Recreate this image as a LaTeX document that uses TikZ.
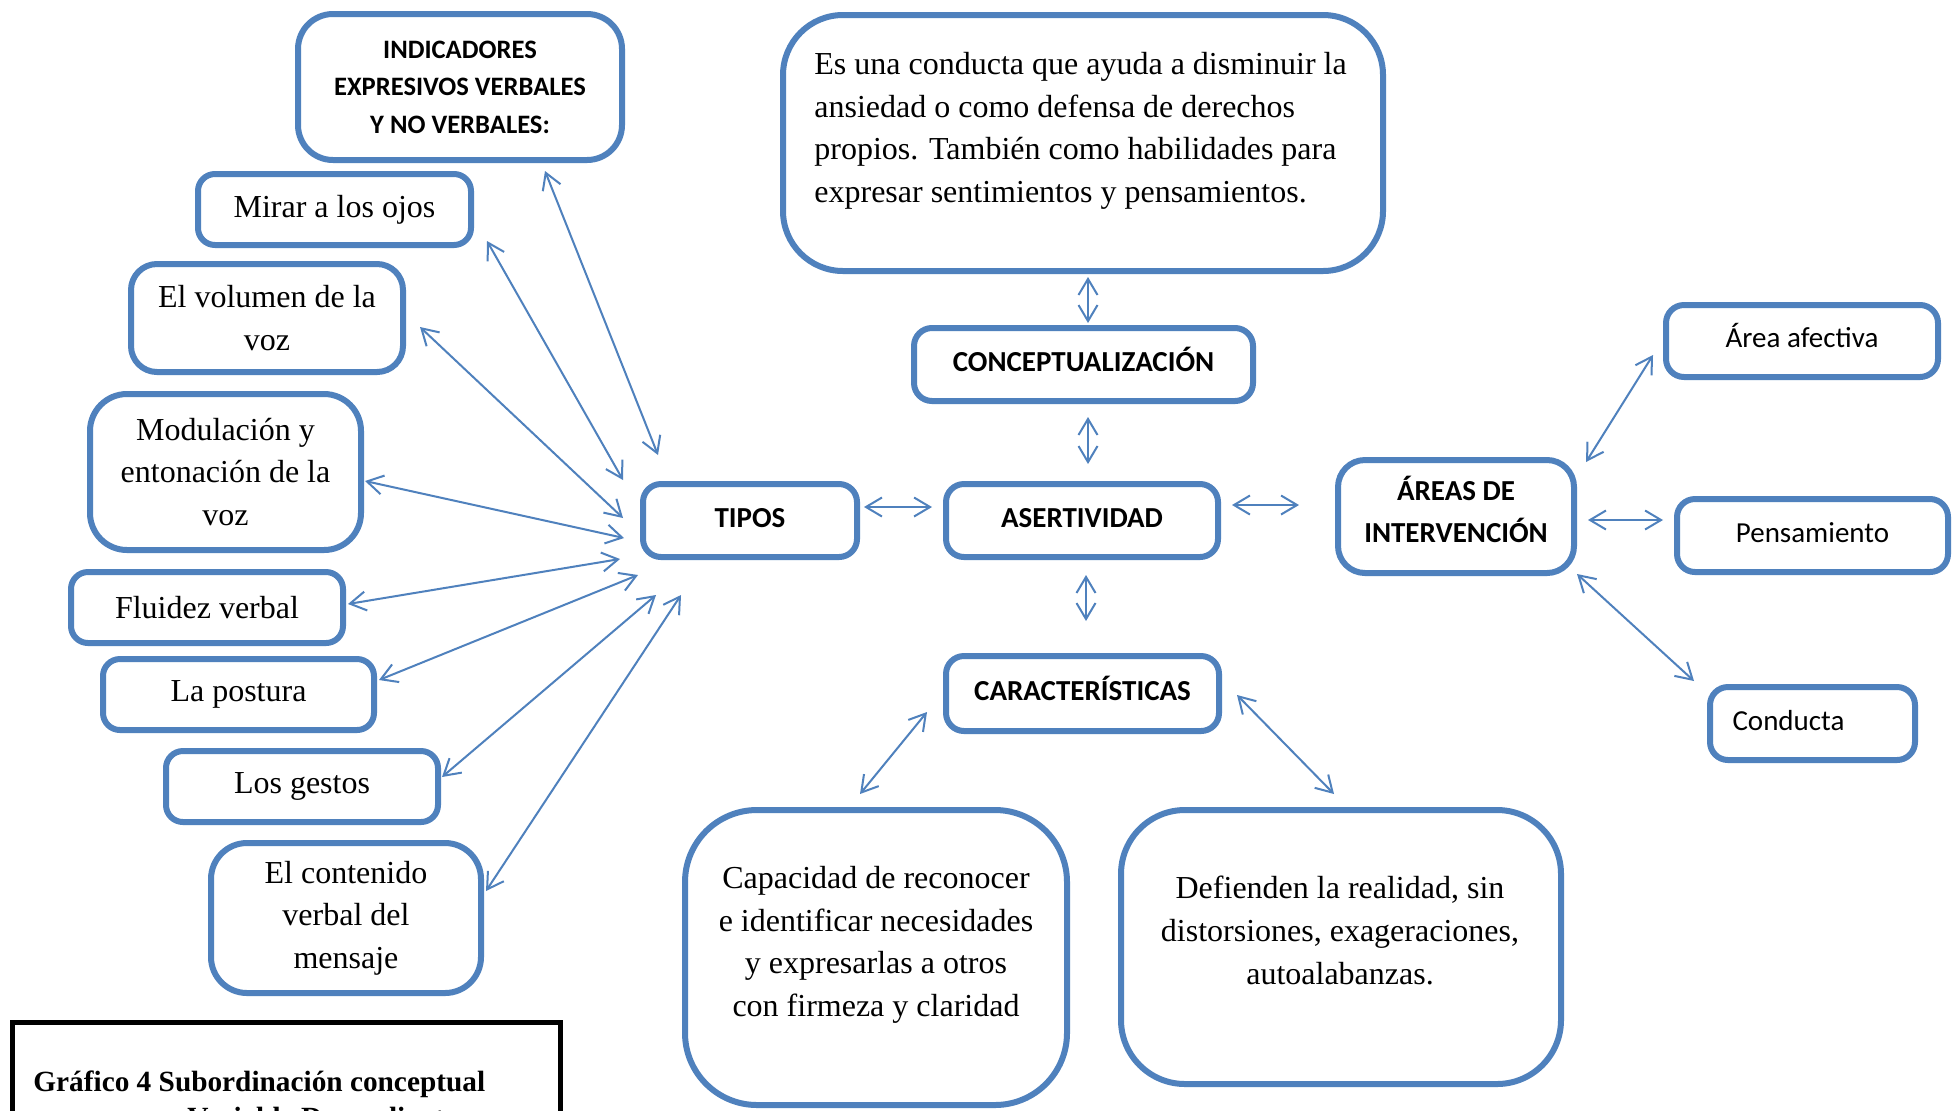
\documentclass[tikz,border=0pt]{standalone}
\usepackage{fontspec}
\setmainfont{Liberation Serif}
\newfontfamily\calfont{Carlito}
\usetikzlibrary{arrows.meta,calc}
\definecolor{boxblue}{RGB}{79,129,189}

\begin{document}
\begin{tikzpicture}[x=0.5pt,y=-0.5pt,
  box/.style={draw=boxblue,line width=3pt,rounded corners=#1,inner sep=0pt,align=center,fill=white},
  box/.default=9pt,
  rm/.style={font=\fontsize{16pt}{21.3pt}\selectfont},
  sb/.style={font=\calfont\bfseries\fontsize{14.5pt}{21pt}\selectfont},
  sr/.style={font=\calfont\fontsize{14.5pt}{21pt}\selectfont},
  oneline/.style={text height=10pt,text depth=3.5pt},
  txt/.style={inner sep=0pt},
  arr/.style={draw=boxblue,line width=1pt,>={Straight Barb[length=8pt,width=9.5pt]},<->},
]
\useasboundingbox (0,0) rectangle (1952,1110);
\clip (0,0) rectangle (1952,1110);
\fill[white] (0,0) rectangle (1952,1110);

% expressive indicators (left column)
\node[box=17.5pt, minimum width=162pt, minimum height=73pt,
      font=\calfont\bfseries\fontsize{13.3pt}{18.7pt}\selectfont] (ind) at (460,87)
      {INDICADORES\\EXPRESIVOS VERBALES\\Y NO VERBALES:};
\node[box=8.5pt, minimum width=136.5pt, minimum height=35.5pt, rm] (mir) at (334.5,209.5) {Mirar a los ojos};
\node[box=13pt, minimum width=136pt, minimum height=54pt, rm] (vol) at (267,318) {El volumen de la\\voz};
\node[box=18.5pt, minimum width=135.5pt, minimum height=78pt, rm] (mod) at (225.5,472) {Modulación y\\entonación de la\\voz};
\node[box=8.5pt, minimum width=136pt, minimum height=35.5pt, rm] (flu) at (207,607.5) {Fluidez verbal};
\node[box=8.5pt, minimum width=135.5pt, minimum height=35.5pt, rm] (pos) at (238.5,694.5) {La postura};
\node[box=8.5pt, minimum width=136pt, minimum height=35.5pt, rm] (ges) at (302,786.5) {Los gestos};
\node[box=18pt, minimum width=135pt, minimum height=75pt, rm] (con) at (346,918) {El contenido\\verbal del\\mensaje};

% central concepts
\node[box, minimum width=107pt, minimum height=36.5pt, sb, oneline] (tip) at (750,520.5) {TIPOS};
\node[box, minimum width=136pt, minimum height=36.5pt, sb, oneline] (ase) at (1082,520.5) {ASERTIVIDAD};
\node[box, minimum width=169.5pt, minimum height=36.5pt, sb, oneline] (cpt) at (1083.5,364.5) {CONCEPTUALIZACIÓN};
\node[box=30pt, minimum width=300pt, minimum height=128pt] (def) at (1083,143) {};
\node[txt, rm, anchor=north west, align=left] (defT) at (814,52)
  {Es una conducta que ayuda a disminuir la\\ansiedad o como defensa de derechos\\propios. También como habilidades para\\expresar sentimientos y pensamientos.};
\node[box, minimum width=136.5pt, minimum height=37.5pt, sb, oneline] (car) at (1082.5,693.5) {CARACTERÍSTICAS};
\node[box=36pt, minimum width=191pt, minimum height=147.5pt] (cap) at (876,957.5) {};
\node[txt, rm, anchor=north, align=center] (capT) at (876,866)
  {Capacidad de reconocer\\e identificar necesidades\\y expresarlas a otros\\con firmeza y claridad};
\node[box=32pt, minimum width=220pt, minimum height=137pt] (dfn) at (1341,947) {};
\node[txt, rm, anchor=north, align=center] (dfnT) at (1340,876)
  {Defienden la realidad, sin\\distorsiones, exageraciones,\\autoalabanzas.};

% intervention areas
\node[box=13.5pt, minimum width=118pt, minimum height=56.5pt] (are) at (1456,516.5) {};
\node[txt, sb, anchor=base] (areA) at (1456,500) {ÁREAS DE};
\node[txt, sb, anchor=base] (areB) at (1456,542) {INTERVENCIÓN};
\node[box, minimum width=136pt, minimum height=36pt, sr, oneline] (afe) at (1802,341) {Área afectiva};
\node[box, minimum width=135.5pt, minimum height=36.5pt, sr, oneline] (pen) at (1812.5,535.5) {Pensamiento};
\node[box, minimum width=102.5pt, minimum height=36.5pt, sr, oneline, text width=80pt, align=left] (cnd) at (1812.5,723.5) {Conducta};

% caption
\node[draw=black, line width=2.5pt, minimum width=274pt, minimum height=60pt, inner sep=0pt,
      anchor=north west] (fig) at (10,1020) {};
\node[txt, anchor=base west, font=\bfseries\fontsize{14.65pt}{16pt}\selectfont] (figA) at (33,1091)
  {Gráfico 4 Subordinación conceptual};
\node[txt, anchor=base west, font=\bfseries\fontsize{14.65pt}{16pt}\selectfont] (figB) at (187,1127)
  {Variable Dependiente};

% connectors
\draw[arr] ($(ind.south)+(85,8)$) -- ($(tip.north)+(-92,-26)$);
\draw[arr] ($(mir.east)+(13,31.5)$) -- ($(tip.north west)+(-17,-1)$);
\draw[arr] ($(vol.east)+(14,9)$) -- ($(tip.west)+(-17,-2.5)$);
\draw[arr] ($(mod.east)+(1,9)$) -- ($(tip.west)+(-16,17.5)$);
\draw[arr] ($(flu.east)+(2,-3.5)$) -- ($(tip.south west)+(-20,-1)$);
\draw[arr] ($(pos.east)+(2,-14.5)$) -- ($(tip.south west)+(-2,15)$);
\draw[arr] ($(ges.east)+(1,-9.5)$) -- ($(tip.south west)+(16,35)$);
\draw[arr] ($(con.east)+(2,-27)$) -- ($(tip.south west)+(41,35)$);

\draw[arr] ($(tip.east)+(4,-13.5)$) -- ($(ase.west)+(-11,-13.5)$);
\draw[arr] ($(ase.east)+(11,-15.5)$) -- ($(are.west)+(-36,-11.5)$);
\draw[arr] ($(def.south)+(5,3)$) -- ($(cpt.north)+(4.5,-2)$);
\draw[arr] ($(cpt.south)+(4.5,13)$) -- ($(ase.north)+(6,-17)$);
\draw[arr] ($(ase.south)+(4,15)$) -- ($(car.north)+(3.5,-32)$);
\draw[arr] ($(car.west)+(-16,18.5)$) -- ($(cap.north)+(-16,-13)$);
\draw[arr] ($(car.east)+(15,1.5)$) -- ($(dfn.north)+(-7,-13)$);

\draw[arr] ($(are.north east)+(9,5)$) -- ($(afe.west)+(-10,14)$);
\draw[arr] ($(are.east)+(11,3.5)$) -- ($(pen.west)+(-11,-15.5)$);
\draw[arr] ($(are.south east)+(0,-2)$) -- ($(cnd.north west)+(-13,-3)$);
\end{tikzpicture}
\end{document}
